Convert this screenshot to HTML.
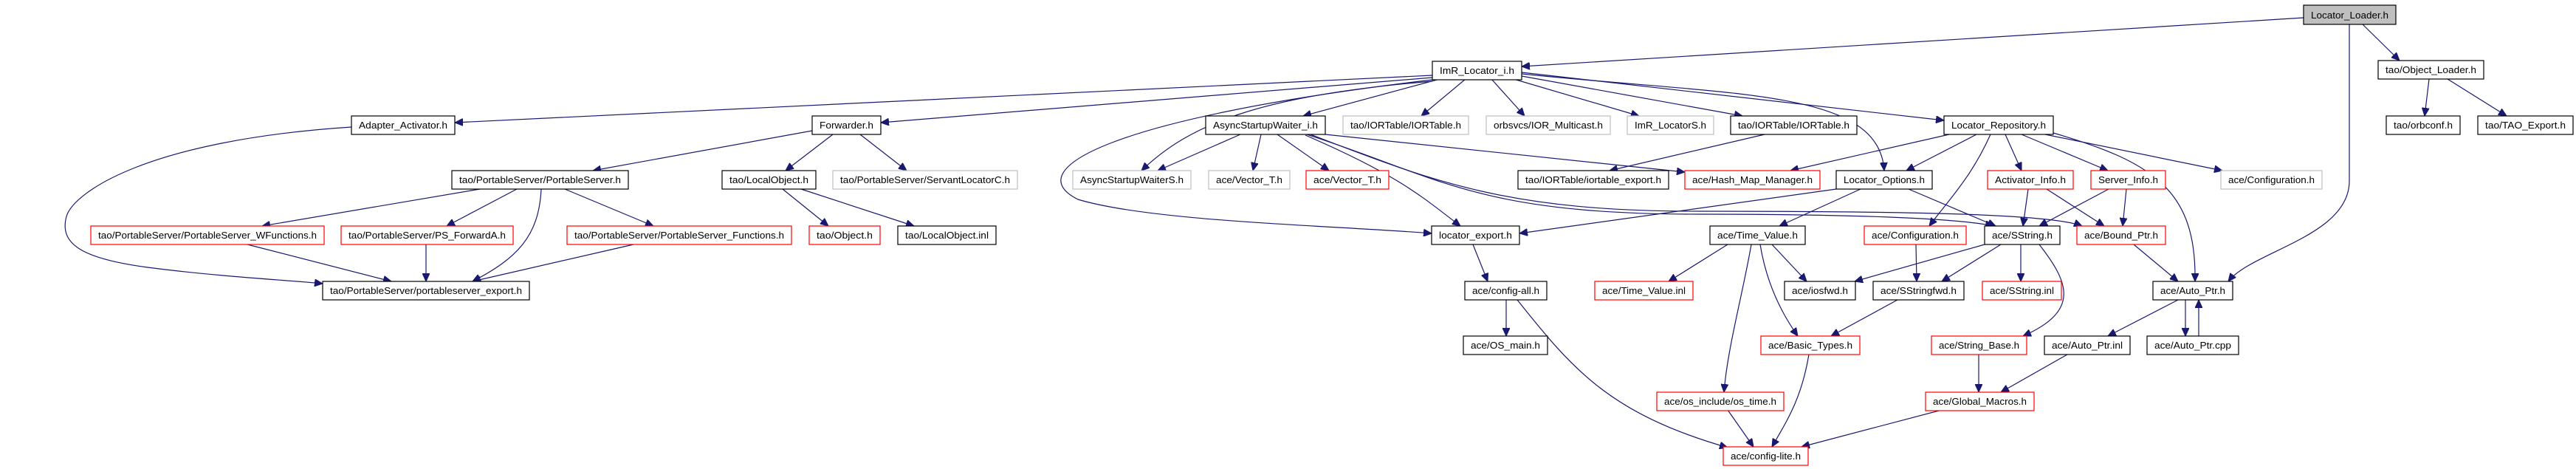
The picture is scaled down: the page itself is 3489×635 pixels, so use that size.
<!DOCTYPE html>
<html><head><meta charset="utf-8"><style>
html,body{margin:0;padding:0;background:#fff;}
svg{display:block;}
text{font-family:"Liberation Sans",sans-serif;font-size:13px;fill:#000;}
.e{fill:none;stroke:#191970;stroke-width:1.2;marker-end:url(#a);}
.b{fill:#fff;stroke:#000;stroke-width:1.2;}
.r{fill:#fff;stroke:#ff0000;stroke-width:1.2;}
.g{fill:#fff;stroke:#bfbfbf;stroke-width:1.2;}
</style></head><body>
<svg width="3489" height="635" viewBox="0 0 3489 635" xmlns="http://www.w3.org/2000/svg">
<defs><marker id="a" markerUnits="userSpaceOnUse" markerWidth="12" markerHeight="10" refX="11" refY="5" orient="auto"><path d="M0,0 L11,5 L0,10 z" fill="#191970" stroke="#191970"/></marker></defs>
<g>
<path class="e" d="M3120,24 L2061,90"/>
<path class="e" d="M3200,33 L3250,82"/>
<path class="e" d="M3182,33 L3182,245 C3182,320 3050,340 3018,381"/>
<path class="e" d="M3290,107 L3284,157"/>
<path class="e" d="M3315,107 L3395,157"/>
<path class="e" d="M1940,102 L616,166"/>
<path class="e" d="M1940,105 L1193,166"/>
<path class="e" d="M1950,107 L1765,157"/>
<path class="e" d="M1985,107 L1925,157"/>
<path class="e" d="M2020,107 L2065,157"/>
<path class="e" d="M2050,107 L2220,157"/>
<path class="e" d="M2061,103 L2360,157"/>
<path class="e" d="M2061,98 L2633,163"/>
<path class="e" d="M2061,100 C2350,130 2545,120 2552,231"/>
<path class="e" d="M1940,108 C1500,160 1380,230 1460,270 C1560,300 1800,305 1939,316"/>
<path class="e" d="M1940,110 C1700,130 1610,170 1546,231"/>
<path class="e" d="M476,172 C200,190 100,260 90,293 C80,330 110,350 200,362 C300,375 400,380 437,384"/>
<path class="e" d="M1100,177 L803,231"/>
<path class="e" d="M1128,182 L1064,231"/>
<path class="e" d="M1165,182 L1228,231"/>
<path class="e" d="M650,256 L355,306"/>
<path class="e" d="M700,256 L605,306"/>
<path class="e" d="M765,256 L885,306"/>
<path class="e" d="M733,256 C730,320 700,350 640,381"/>
<path class="e" d="M335,331 L530,381"/>
<path class="e" d="M577,331 L577,381"/>
<path class="e" d="M858,331 L640,381"/>
<path class="e" d="M1060,256 L1122,306"/>
<path class="e" d="M1085,256 L1238,306"/>
<path class="e" d="M1680,182 L1568,231"/>
<path class="e" d="M1708,182 L1697,231"/>
<path class="e" d="M1730,182 L1800,231"/>
<path class="e" d="M1768,183 C1900,240 1930,270 1978,306"/>
<path class="e" d="M1795,182 L2282,233"/>
<path class="e" d="M1770,182 C1950,240 2000,290 2300,290 C2500,290 2650,295 2700,306"/>
<path class="e" d="M1775,182 C1950,250 2050,286 2300,286 C2600,286 2780,290 2820,306"/>
<path class="e" d="M2390,182 L2180,231"/>
<path class="e" d="M2640,182 L2425,231"/>
<path class="e" d="M2677,182 L2582,231"/>
<path class="e" d="M2696,182 C2670,240 2640,270 2613,306"/>
<path class="e" d="M2716,182 L2738,231"/>
<path class="e" d="M2738,182 L2855,231"/>
<path class="e" d="M2770,182 L3010,231"/>
<path class="e" d="M2781,180 C2920,220 2975,260 2973,381"/>
<path class="e" d="M2487,256 L2058,316"/>
<path class="e" d="M2520,256 L2410,306"/>
<path class="e" d="M2585,256 L2703,306"/>
<path class="e" d="M2747,256 L2740,306"/>
<path class="e" d="M2772,256 L2850,306"/>
<path class="e" d="M2856,256 L2762,306"/>
<path class="e" d="M2880,256 L2875,306"/>
<path class="e" d="M2890,331 L2950,381"/>
<path class="e" d="M2340,331 L2260,381"/>
<path class="e" d="M2400,331 L2447,381"/>
<path class="e" d="M2384,331 C2392,380 2410,420 2435,455"/>
<path class="e" d="M2372,331 C2360,400 2340,470 2335,531"/>
<path class="e" d="M2595,331 L2596,381"/>
<path class="e" d="M2688,331 L2512,381"/>
<path class="e" d="M2710,331 L2630,381"/>
<path class="e" d="M2737,331 L2737,381"/>
<path class="e" d="M2762,331 C2800,380 2820,420 2740,455"/>
<path class="e" d="M1995,331 L2015,381"/>
<path class="e" d="M2040,406 L2040,455"/>
<path class="e" d="M2055,406 C2130,500 2180,560 2340,606"/>
<path class="e" d="M2570,406 L2480,455"/>
<path class="e" d="M2450,480 C2440,540 2420,570 2400,605"/>
<path class="e" d="M2340,555 L2375,605"/>
<path class="e" d="M2680,480 L2680,531"/>
<path class="e" d="M2800,480 L2710,531"/>
<path class="e" d="M2630,555 L2440,605"/>
<path class="e" d="M2950,406 L2855,455"/>
<path class="e" d="M2960,406 L2960,455"/>
<path class="e" d="M2978,455 L2978,406"/>
</g>
<g>
<rect x="3120" y="7" width="125" height="26" fill="#bfbfbf" stroke="#000" stroke-width="1.2"/><text x="3130" y="25" textLength="105" lengthAdjust="spacingAndGlyphs">Locator_Loader.h</text>
<rect class="b" x="1940" y="83" width="121" height="25"/><text x="1950" y="100" textLength="101" lengthAdjust="spacingAndGlyphs">ImR_Locator_i.h</text>
<rect class="b" x="3221" y="82" width="143" height="25"/><text x="3231" y="99" textLength="123" lengthAdjust="spacingAndGlyphs">tao/Object_Loader.h</text>

<rect class="b" x="476" y="157" width="140" height="25"/><text x="486" y="174" textLength="120" lengthAdjust="spacingAndGlyphs">Adapter_Activator.h</text>
<rect class="b" x="1100" y="157" width="93" height="25"/><text x="1110" y="174" textLength="73" lengthAdjust="spacingAndGlyphs">Forwarder.h</text>
<rect class="b" x="1633" y="157" width="162" height="25"/><text x="1643" y="174" textLength="142" lengthAdjust="spacingAndGlyphs">AsyncStartupWaiter_i.h</text>
<rect class="g" x="1819" y="157" width="170" height="25"/><text x="1829" y="174" textLength="150" lengthAdjust="spacingAndGlyphs">tao/IORTable/IORTable.h</text>
<rect class="g" x="2013" y="157" width="168" height="25"/><text x="2023" y="174" textLength="148" lengthAdjust="spacingAndGlyphs">orbsvcs/IOR_Multicast.h</text>
<rect class="g" x="2204" y="157" width="117" height="25"/><text x="2214" y="174" textLength="97" lengthAdjust="spacingAndGlyphs">ImR_LocatorS.h</text>
<rect class="b" x="2344" y="157" width="171" height="25"/><text x="2354" y="174" textLength="151" lengthAdjust="spacingAndGlyphs">tao/IORTable/IORTable.h</text>
<rect class="b" x="2633" y="157" width="148" height="25"/><text x="2643" y="174" textLength="128" lengthAdjust="spacingAndGlyphs">Locator_Repository.h</text>
<rect class="b" x="3232" y="157" width="100" height="25"/><text x="3242" y="174" textLength="80" lengthAdjust="spacingAndGlyphs">tao/orbconf.h</text>
<rect class="b" x="3356" y="157" width="129" height="25"/><text x="3366" y="174" textLength="109" lengthAdjust="spacingAndGlyphs">tao/TAO_Export.h</text>

<rect class="b" x="612" y="231" width="239" height="25"/><text x="622" y="248" textLength="219" lengthAdjust="spacingAndGlyphs">tao/PortableServer/PortableServer.h</text>
<rect class="b" x="978" y="231" width="127" height="25"/><text x="988" y="248" textLength="107" lengthAdjust="spacingAndGlyphs">tao/LocalObject.h</text>
<rect class="g" x="1128" y="231" width="250" height="25"/><text x="1138" y="248" textLength="230" lengthAdjust="spacingAndGlyphs">tao/PortableServer/ServantLocatorC.h</text>
<rect class="g" x="1453" y="231" width="160" height="25"/><text x="1463" y="248" textLength="140" lengthAdjust="spacingAndGlyphs">AsyncStartupWaiterS.h</text>
<rect class="g" x="1637" y="231" width="110" height="25"/><text x="1647" y="248" textLength="90" lengthAdjust="spacingAndGlyphs">ace/Vector_T.h</text>
<rect class="r" x="1769" y="231" width="112" height="25"/><text x="1779" y="248" textLength="92" lengthAdjust="spacingAndGlyphs">ace/Vector_T.h</text>
<rect class="b" x="2056" y="231" width="204" height="25"/><text x="2066" y="248" textLength="184" lengthAdjust="spacingAndGlyphs">tao/IORTable/iortable_export.h</text>
<rect class="r" x="2282" y="231" width="183" height="25"/><text x="2292" y="248" textLength="163" lengthAdjust="spacingAndGlyphs">ace/Hash_Map_Manager.h</text>
<rect class="b" x="2487" y="231" width="130" height="25"/><text x="2497" y="248" textLength="110" lengthAdjust="spacingAndGlyphs">Locator_Options.h</text>
<rect class="r" x="2692" y="231" width="116" height="25"/><text x="2702" y="248" textLength="96" lengthAdjust="spacingAndGlyphs">Activator_Info.h</text>
<rect class="r" x="2832" y="231" width="101" height="25"/><text x="2842" y="248" textLength="81" lengthAdjust="spacingAndGlyphs">Server_Info.h</text>
<rect class="g" x="3008" y="231" width="137" height="25"/><text x="3018" y="248" textLength="117" lengthAdjust="spacingAndGlyphs">ace/Configuration.h</text>

<rect class="r" x="123" y="306" width="316" height="25"/><text x="133" y="323" textLength="296" lengthAdjust="spacingAndGlyphs">tao/PortableServer/PortableServer_WFunctions.h</text>
<rect class="r" x="462" y="306" width="233" height="25"/><text x="472" y="323" textLength="213" lengthAdjust="spacingAndGlyphs">tao/PortableServer/PS_ForwardA.h</text>
<rect class="r" x="768" y="306" width="304" height="25"/><text x="778" y="323" textLength="284" lengthAdjust="spacingAndGlyphs">tao/PortableServer/PortableServer_Functions.h</text>
<rect class="r" x="1096" y="306" width="96" height="25"/><text x="1106" y="323" textLength="76" lengthAdjust="spacingAndGlyphs">tao/Object.h</text>
<rect class="b" x="1216" y="306" width="133" height="25"/><text x="1226" y="323" textLength="113" lengthAdjust="spacingAndGlyphs">tao/LocalObject.inl</text>
<rect class="b" x="1939" y="306" width="119" height="25"/><text x="1949" y="323" textLength="99" lengthAdjust="spacingAndGlyphs">locator_export.h</text>
<rect class="b" x="2316" y="306" width="129" height="25"/><text x="2326" y="323" textLength="109" lengthAdjust="spacingAndGlyphs">ace/Time_Value.h</text>
<rect class="r" x="2525" y="306" width="138" height="25"/><text x="2535" y="323" textLength="118" lengthAdjust="spacingAndGlyphs">ace/Configuration.h</text>
<rect class="b" x="2688" y="306" width="102" height="25"/><text x="2698" y="323" textLength="82" lengthAdjust="spacingAndGlyphs">ace/SString.h</text>
<rect class="r" x="2813" y="306" width="120" height="25"/><text x="2823" y="323" textLength="100" lengthAdjust="spacingAndGlyphs">ace/Bound_Ptr.h</text>

<rect class="b" x="437" y="381" width="280" height="25"/><text x="447" y="398" textLength="260" lengthAdjust="spacingAndGlyphs">tao/PortableServer/portableserver_export.h</text>
<rect class="b" x="1984" y="381" width="111" height="25"/><text x="1994" y="398" textLength="91" lengthAdjust="spacingAndGlyphs">ace/config-all.h</text>
<rect class="r" x="2160" y="381" width="133" height="25"/><text x="2170" y="398" textLength="113" lengthAdjust="spacingAndGlyphs">ace/Time_Value.inl</text>
<rect class="b" x="2417" y="381" width="96" height="25"/><text x="2427" y="398" textLength="76" lengthAdjust="spacingAndGlyphs">ace/iosfwd.h</text>
<rect class="b" x="2537" y="381" width="123" height="25"/><text x="2547" y="398" textLength="103" lengthAdjust="spacingAndGlyphs">ace/SStringfwd.h</text>
<rect class="r" x="2685" y="381" width="107" height="25"/><text x="2695" y="398" textLength="87" lengthAdjust="spacingAndGlyphs">ace/SString.inl</text>
<rect class="b" x="2916" y="381" width="108" height="25"/><text x="2926" y="398" textLength="88" lengthAdjust="spacingAndGlyphs">ace/Auto_Ptr.h</text>

<rect class="b" x="1982" y="455" width="114" height="25"/><text x="1992" y="472" textLength="94" lengthAdjust="spacingAndGlyphs">ace/OS_main.h</text>
<rect class="r" x="2385" y="455" width="134" height="25"/><text x="2395" y="472" textLength="114" lengthAdjust="spacingAndGlyphs">ace/Basic_Types.h</text>
<rect class="r" x="2616" y="455" width="129" height="25"/><text x="2626" y="472" textLength="109" lengthAdjust="spacingAndGlyphs">ace/String_Base.h</text>
<rect class="b" x="2769" y="455" width="116" height="25"/><text x="2779" y="472" textLength="96" lengthAdjust="spacingAndGlyphs">ace/Auto_Ptr.inl</text>
<rect class="b" x="2908" y="455" width="124" height="25"/><text x="2918" y="472" textLength="104" lengthAdjust="spacingAndGlyphs">ace/Auto_Ptr.cpp</text>

<rect class="r" x="2244" y="531" width="172" height="25"/><text x="2254" y="548" textLength="152" lengthAdjust="spacingAndGlyphs">ace/os_include/os_time.h</text>
<rect class="r" x="2608" y="531" width="147" height="25"/><text x="2618" y="548" textLength="127" lengthAdjust="spacingAndGlyphs">ace/Global_Macros.h</text>

<rect class="r" x="2334" y="605" width="115" height="25"/><text x="2344" y="622" textLength="95" lengthAdjust="spacingAndGlyphs">ace/config-lite.h</text>
</g>
</svg>
</body></html>
